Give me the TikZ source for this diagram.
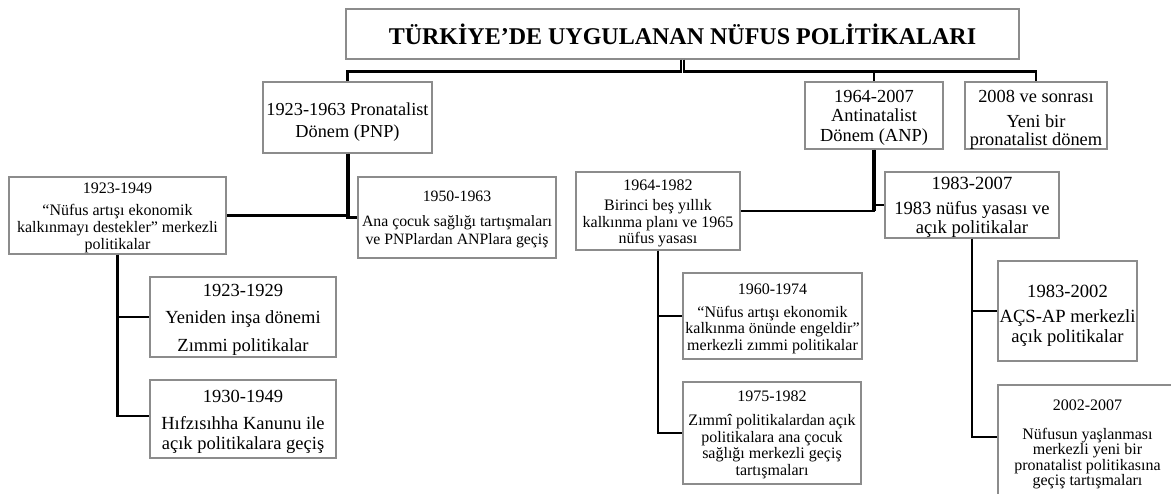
\documentclass[tikz,border=0pt]{standalone}
\usepackage{fontspec}
\setmainfont{Liberation Serif}
\usetikzlibrary{calc}
\definecolor{boxgray}{HTML}{8C8C8C}
\tikzset{
  box/.style={draw=boxgray, line width=1.1pt, inner sep=0pt, anchor=center, fill=white},
  txt/.style={inner sep=0pt, align=center, anchor=center},
  conn/.style={draw=black, line width=2.8pt},
  thickconn/.style={draw=black, line width=4pt},
}
\begin{document}
\begin{tikzpicture}[x=1pt,y=-1pt]
\useasboundingbox (0,0) rectangle (1171,494);
\clip (0,0) rectangle (1171,494);

% ---------- boxes ----------
\node[box, minimum width=673pt, minimum height=50pt] (title) at (682.5,34) {};
\node[box, minimum width=169pt, minimum height=71pt] (pnp) at (347.5,117.5) {};
\node[box, minimum width=138pt, minimum height=67pt] (anp) at (874,115.5) {};
\node[box, minimum width=142pt, minimum height=67pt] (p2008) at (1036,115.5) {};
\node[box, minimum width=217pt, minimum height=77pt] (b1) at (117.5,215.5) {};
\node[box, minimum width=198pt, minimum height=81pt] (b2) at (457,217.5) {};
\node[box, minimum width=164pt, minimum height=78pt] (b3) at (658,211) {};
\node[box, minimum width=174pt, minimum height=66pt] (b4) at (972,205) {};
\node[box, minimum width=186pt, minimum height=80pt] (c1) at (243,317) {};
\node[box, minimum width=186pt, minimum height=78pt] (c2) at (243,419) {};
\node[box, minimum width=179pt, minimum height=86pt] (d1) at (772.5,316) {};
\node[box, minimum width=178pt, minimum height=102pt] (d2) at (772,433) {};
\node[box, minimum width=139pt, minimum height=100pt] (e1) at (1067.5,311) {};
\node[box, minimum width=179pt, minimum height=114pt] (e2) at (1087.5,442) {};

% ---------- texts ----------
\node[txt, font=\fontsize{24}{28}\selectfont\bfseries] (title-t) at (682.5,34)
  {TÜRKİYE’DE UYGULANAN NÜFUS POLİTİKALARI};
\node[txt, font=\fontsize{18.3}{21.5}\selectfont] (pnp-t) at (347.5,122)
  {1923-1963 Pronatalist\\Dönem (PNP)};
\node[txt, font=\fontsize{18.4}{19.5}\selectfont] (anp-t) at (874,117.5)
  {1964-2007\\Antinatalist\\Dönem (ANP)};
\node[txt, font=\fontsize{18.4}{18}\selectfont] (p2008-t) at (1036,119.5)
  {2008 ve sonrası\\[7pt]Yeni bir\\pronatalist dönem};

\node[txt, font=\fontsize{16}{17}\selectfont] (b1-t) at (117.5,218)
  {1923-1949\\[5pt]“Nüfus artışı ekonomik\\kalkınmayı destekler” merkezli\\politikalar};
\node[txt, font=\fontsize{15.8}{18}\selectfont] (b2-t) at (457,219.5)
  {1950-1963\\[7pt]Ana çocuk sağlığı tartışmaları\\ve PNPlardan ANPlara geçiş};
\node[txt, font=\fontsize{16}{16.5}\selectfont] (b3-t) at (658,213.5)
  {1964-1982\\[4pt]Birinci beş yıllık\\kalkınma planı ve 1965\\nüfus yasası};
\node[txt, font=\fontsize{18.6}{19}\selectfont] (b4-t) at (972,207.5)
  {1983-2007\\[5.5pt]1983 nüfus yasası ve\\açık politikalar};

\node[txt, font=\fontsize{18.5}{27.5}\selectfont] (c1-t) at (243,319.5)
  {1923-1929\\Yeniden inşa dönemi\\Zımmi politikalar};
\node[txt, font=\fontsize{18.5}{20}\selectfont] (c2-t) at (243,421.5)
  {1930-1949\\[7pt]Hıfzısıhha Kanunu ile\\açık politikalara geçiş};
\node[txt, font=\fontsize{16}{16.5}\selectfont] (d1-t) at (772.5,318.5)
  {1960-1974\\[6.5pt]“Nüfus artışı ekonomik\\kalkınma önünde engeldir”\\merkezli zımmi politikalar};
\node[txt, font=\fontsize{16}{16.5}\selectfont] (d2-t) at (772,435)
  {1975-1982\\[7.5pt]Zımmî politikalardan açık\\politikalara ana çocuk\\sağlığı merkezli geçiş\\tartışmaları};
\node[txt, font=\fontsize{18.6}{19.5}\selectfont] (e1-t) at (1067.5,316)
  {1983-2002\\[5.5pt]AÇS-AP merkezli\\açık politikalar};
\node[txt, font=\fontsize{16}{15.5}\selectfont] (e2-t) at (1087.5,444.5)
  {2002-2007\\[13pt]Nüfusun yaşlanması\\merkezli yeni bir\\pronatalist politikasına\\geçiş tartışmaları};

% ---------- connectors ----------
\draw[conn] ([xshift=-1.5pt]title.south) -- ++(0,12) -| (pnp.north);
\draw[conn] ([xshift=1.5pt]title.south) -- ++(0,12) -| (anp.north);
\draw[conn] ([xshift=1.5pt]title.south) -- ++(0,12) -| (p2008.north);

\draw[thickconn] (pnp.south) -- (pnp.south |- b2.west);
\draw[conn] (pnp.south) |- (b1.east);
\draw[conn] (pnp.south) |- (b2.west);
\draw[thickconn] (anp.south) -- (anp.south |- b3.east);
\draw[conn] (anp.south) |- (b3.east);
\draw[conn] (anp.south) |- (b4.west);

\draw[conn] (b1.south) |- (c1.west);
\draw[conn] (b1.south) |- ([yshift=3pt]c2.west);
\draw[conn] (b3.south) |- (d1.west);
\draw[conn] (b3.south) |- (d2.west);
\draw[conn] (b4.south) |- (e1.west);
\draw[conn] (b4.south) |- ([yshift=5pt]e2.west);
\end{tikzpicture}
\end{document}
